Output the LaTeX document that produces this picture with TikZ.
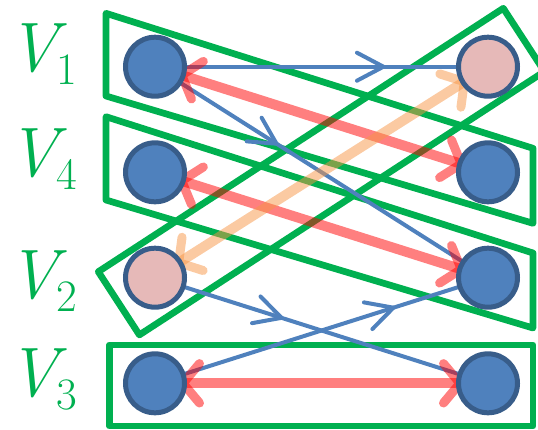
\documentclass[tikz,border=0pt]{standalone}
\usetikzlibrary{decorations.markings}
\definecolor{vgreen}{HTML}{00B050}
\definecolor{nodeblue}{HTML}{4F81BD}
\definecolor{nodeedge}{HTML}{385D8A}
\definecolor{nodepink}{HTML}{E6B9B8}
\definecolor{lineblue}{HTML}{4F81BD}
\definecolor{linered}{HTML}{FF0000}
\definecolor{lineorange}{HTML}{F79646}
\pgfdeclarelayer{boxes}
\pgfdeclarelayer{edges}
\pgfsetlayers{boxes,edges,main}
\newcommand{\partlabel}[1]{{\itshape V}\kern-2pt\raisebox{-13pt}{\fontsize{45}{50}\selectfont #1}}
\begin{document}
\begin{tikzpicture}[x=1pt,y=-1pt,
  vert/.style={circle, draw=nodeedge, line width=5pt, fill=nodeblue, minimum size=59pt, inner sep=0pt},
  pinkvert/.style={vert, fill=nodepink},
  partbox/.style={draw=vgreen, line width=6.7pt, line join=round},
  lbl/.style={text=vgreen, font=\fontsize{70}{80}\selectfont, inner sep=0pt, anchor=base west},
  bluearc/.style={draw=lineblue, line width=4pt, line cap=round, postaction={decorate},
    decoration={markings, mark=at position #1 with {\draw[lineblue, line width=4pt, line cap=round, line join=round] (-26.5pt,-14pt) -- (0pt,0pt) -- (-26.5pt,14pt);}}},
  twoway/.style={draw=#1, draw opacity=0.5, line width=10pt, postaction={decorate},
    decoration={markings,
      mark=at position 28pt with {\draw[#1, draw opacity=0.5, line width=9pt, line cap=round] (0pt,0pt) -- (16.5pt,19.7pt) (0pt,0pt) -- (16.5pt,-19.7pt);},
      mark=at position -28pt with {\draw[#1, draw opacity=0.5, line width=9pt, line cap=round] (0pt,0pt) -- (-16.5pt,19.7pt) (0pt,0pt) -- (-16.5pt,-19.7pt);}}}
]
\useasboundingbox (0,0) rectangle (538,429);

% vertices
\node[vert] (l1) at (155,66.7) {};
\node[vert] (l2) at (155,172.3) {};
\node[pinkvert] (l3) at (155,277.7) {};
\node[vert] (l4) at (155,383.3) {};
\node[pinkvert] (r1) at (488,66.7) {};
\node[vert] (r2) at (488,172.3) {};
\node[vert] (r3) at (488,277.7) {};
\node[vert] (r4) at (488,383.3) {};

% labels
\node[lbl] (t1) at (7,71.7) {\partlabel{1}};
\node[lbl] (t4) at (7,176.7) {\partlabel{4}};
\node[lbl] (t2) at (7,298.3) {\partlabel{2}};
\node[lbl] (t3) at (7,396.7) {\partlabel{3}};

% partition boxes
\begin{pgfonlayer}{boxes}
\draw[partbox] (106,13.3) -- (533,148.3) -- (533,223.3) -- (106,96) -- cycle;
\draw[partbox] (106,116.7) -- (533,253) -- (533,328) -- (106,200) -- cycle;
\draw[partbox] (98.3,271.7) -- (503.3,8.3) -- (544.4,71.5) -- (139.4,334.9) -- cycle;
\draw[partbox] (109.5,345) rectangle (533,426);
\end{pgfonlayer}

% connectors
\begin{pgfonlayer}{edges}
\draw[bluearc=0.686] (l1.center) -- (r1.center);
\draw[bluearc=0.365] (l1.center) -- (r3.center);
\draw[bluearc=0.38] (l3.center) -- (r4.center);
\draw[bluearc=0.716] (l4.center) -- (r3.center);
\draw[twoway=linered] (l1.center) -- (r2.center);
\draw[twoway=linered] (l2.center) -- (r3.center);
\draw[twoway=linered] (l4.center) -- (r4.center);
\draw[twoway=lineorange] (l3.center) -- (r1.center);
\end{pgfonlayer}
\end{tikzpicture}
\end{document}
